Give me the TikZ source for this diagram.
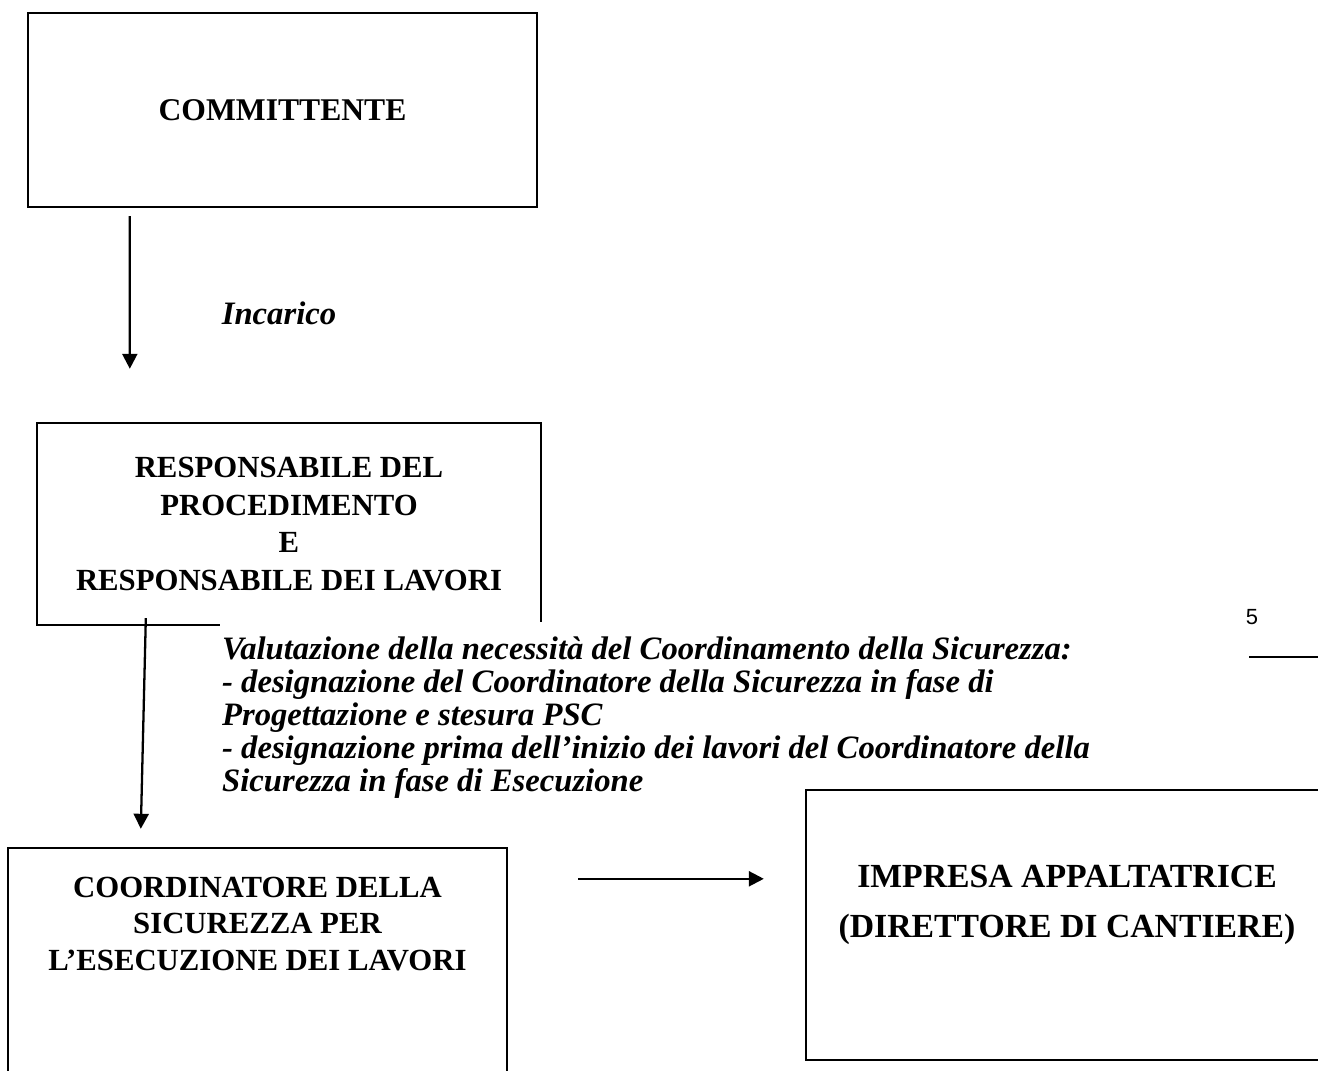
\documentclass[tikz,border=0pt]{standalone}
\usepackage{fontspec}
\setmainfont{Liberation Serif}
\newfontfamily\pagefont{Liberation Sans}
\usetikzlibrary{arrows.meta,positioning,calc}
\tikzset{
  >={Triangle[length=3mm,width=3mm]},
  orgbox/.style={draw,line width=1.4pt,inner sep=0pt},
  boxtxt/.style={font=\bfseries\fontsize{17.5}{21.4}\selectfont,align=center,inner sep=0pt},
  flow/.style={->,line width=1.3pt},
  note/.style={font=\bfseries\itshape\fontsize{18.6}{18.8}\selectfont,align=left},
}

\begin{document}
\begin{tikzpicture}[x=0.02cm,y=-0.02cm]
  \useasboundingbox (0,0) rectangle (1318,1071);
  \clip (0,0) rectangle (1318,1071);
  % boxes
  \node[orgbox,boxtxt,font=\bfseries\fontsize{18}{21}\selectfont,minimum width=10.18cm,minimum height=3.88cm] (comm) at (282.5,110) {COMMITTENTE};
  \node[orgbox,boxtxt,minimum width=10.08cm,minimum height=4.04cm] (resp) at (289,524)
    {RESPONSABILE DEL\\PROCEDIMENTO\\E\\RESPONSABILE DEI LAVORI};
  % labels
  \node[note,fill=white,anchor=north west,inner xsep=1pt,inner ysep=8pt] (val) at (220,622)
    {Valutazione della necessità del Coordinamento della Sicurezza:\\
     - designazione del Coordinatore della Sicurezza in fase di\\
     Progettazione e stesura PSC\\
     - designazione prima dell’inizio dei lavori del Coordinatore della\\
     Sicurezza in fase di Esecuzione};
  \node[note] (inc) at (279,313) {Incarico};
  \node[font=\pagefont\fontsize{12.5}{15}\selectfont] (pg) at (1252,617) {5};
  \draw[line width=1.4pt] ([shift={(-3,40)}]pg.center) -- (1318,657);
  % lower boxes
  \node[orgbox,minimum width=9.98cm,minimum height=5.4cm] (cse) at (257.5,983) {};
  \node[boxtxt,font=\bfseries\fontsize{17.5}{20.7}\selectfont] (csetxt) at ([shift={(0,77)}]cse.north)
    {COORDINATORE DELLA\\SICUREZZA PER\\L’ESECUZIONE DEI LAVORI};
  \node[orgbox,minimum width=10.8cm,minimum height=5.4cm] (imp) at (1076,925) {};
  \node[boxtxt,font=\bfseries\fontsize{19.2}{28.4}\selectfont] (imptxt) at (1067,905)
    {IMPRESA APPALTATRICE\\(DIRETTORE DI CANTIERE)};
  % arrows
  \draw[flow] ([shift={(103,8)}]comm.south west) -- ([shift={(94,-53)}]resp.north west);
  \draw[flow] ([shift={(110,-8)}]resp.south west) -- ([shift={(134,-18)}]cse.north west);
  \draw[flow] ([shift={(70,32)}]cse.north east) -- ([shift={(-41,90)}]imp.north west);
\end{tikzpicture}
\end{document}
